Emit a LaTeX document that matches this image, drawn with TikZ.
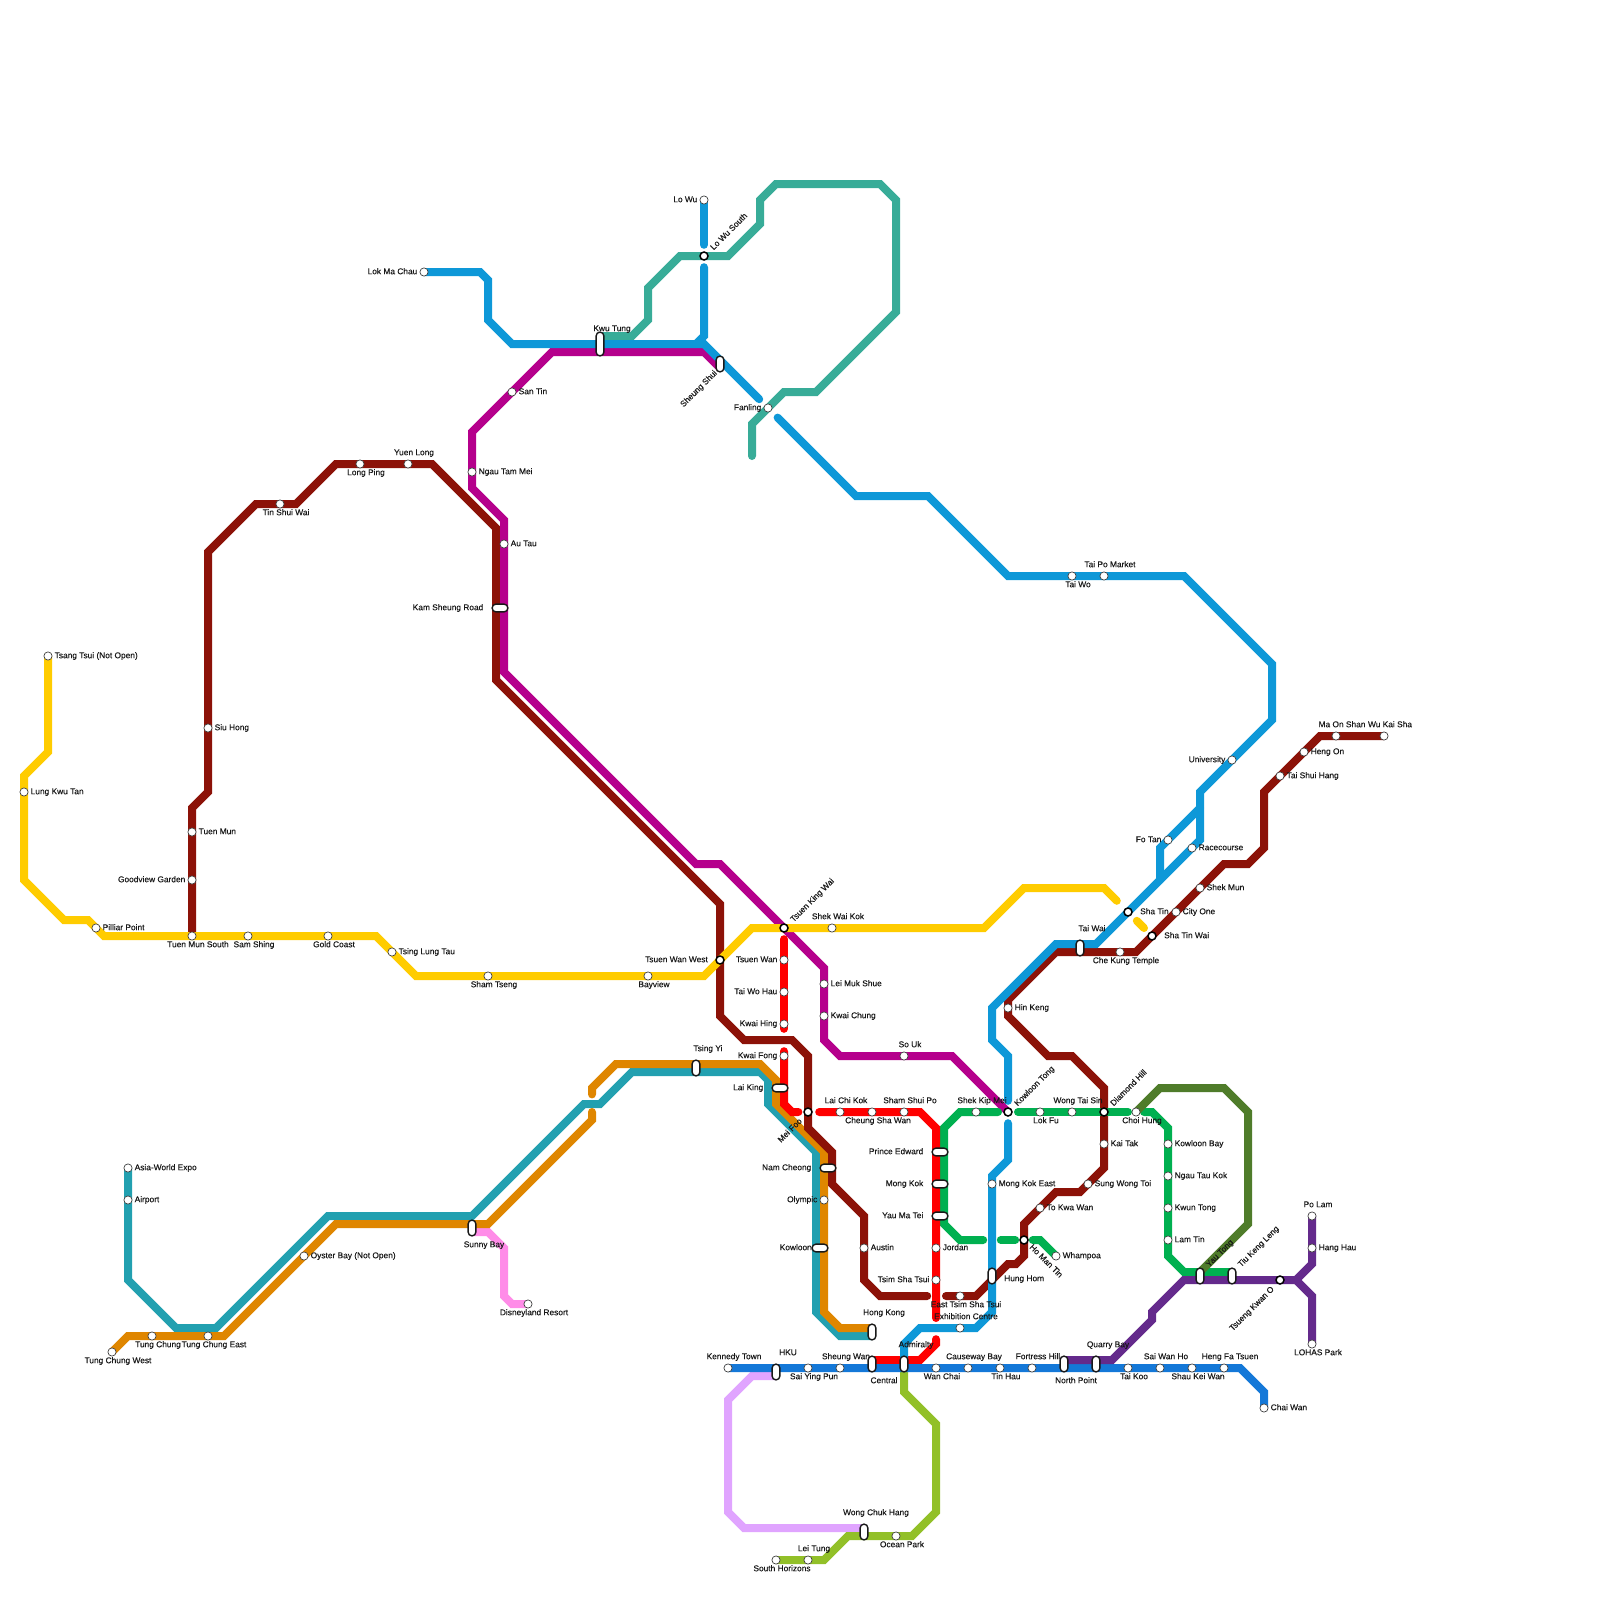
\documentclass[tikz,border=0pt]{standalone}
\usepackage{fontspec}
\setmainfont{Liberation Sans}
\newfontfamily\lblfont{Liberation Sans}[FakeBold=0.25]
\definecolor{cRed}{HTML}{FF0000}
\definecolor{cMar}{HTML}{8C1208}
\definecolor{cMag}{HTML}{B5008C}
\definecolor{cYel}{HTML}{FFCC00}
\definecolor{cBlu}{HTML}{0E98D8}
\definecolor{cIsl}{HTML}{1478D8}
\definecolor{cTea}{HTML}{22A0B0}
\definecolor{cOra}{HTML}{DF8600}
\definecolor{cGrn}{HTML}{00B050}
\definecolor{cOli}{HTML}{4F7C2A}
\definecolor{cPur}{HTML}{642A8C}
\definecolor{cLil}{HTML}{E0A4FF}
\definecolor{cLim}{HTML}{92C028}
\definecolor{cPnk}{HTML}{FF8CE8}
\definecolor{cSea}{HTML}{38AC98}
\tikzset{
 ln/.style={line width=8pt,line cap=round,line join=miter,miter limit=10},
 stop/.style={circle,draw=black!75,line width=0.7pt,fill=white,inner sep=0pt,minimum size=8.2pt},
 ichg/.style={circle,draw=black,line width=1.5pt,fill=white,inner sep=0pt,minimum size=8pt},
 pillh/.style={rectangle,rounded corners=3.9pt,draw=black!90,line width=1.4pt,fill=white,inner sep=0pt,minimum width=15.8pt,minimum height=7.8pt},
 pillv/.style={rectangle,rounded corners=3.9pt,draw=black!90,line width=1.4pt,fill=white,inner sep=0pt,minimum width=7.8pt,minimum height=15.8pt},
 pillvl/.style={pillv,minimum height=23.8pt},
 lab/.style={inner sep=0pt,text height=6.2pt,text depth=1.8pt,text=black!90,font=\lblfont\fontsize{8.35}{10}\selectfont},
 R/.style={anchor=west,xshift=6.5pt},
 L/.style={anchor=east,xshift=-6.5pt},
 A/.style={xshift=6pt,yshift=11pt},
 B/.style={xshift=6pt,yshift=-9pt},
 PA/.style={xshift=12pt,yshift=19pt},
 PB/.style={xshift=12pt,yshift=-17pt},
 PL/.style={anchor=east,xshift=-16.5pt},
 PR/.style={anchor=west,xshift=12pt},
 UR/.style={xshift=8pt,yshift=7pt,rotate=45,anchor=west},
 DL/.style={xshift=-7pt,yshift=-8pt,rotate=45,anchor=east},
 DR/.style={xshift=6.5pt,yshift=-6pt,rotate=-45,anchor=west},
}
\newcommand\st[4]{\node[#2] (n-#1) at (#1) {}; \node[lab,#3] (t-#1) at (#1) {#4};}
\begin{document}
\begin{tikzpicture}[x=8pt,y=-8pt]
\fill[white] (0,0) rectangle (200,200);
\useasboundingbox (0,0) rectangle (200,200);
% station positions
\foreach \n/\x/\y in {
 lmc/53/34,lowu/88/25,lwsouth/88/32,kwutung/75/43,sheungshui/90/45.5,fanling/96/51,taiwo/134/72,taipo/138/72,
 university/154/95,fotan/146/105,racecourse/149/106,shatin/141/114,taiwai/135/118.5,kowloontong/126/139,
 mongkokeast/124/148,hunghom/124/159.5,exhibition/120/166,admiralty/113/170.5,
 santin/64/49,ngautam/59/59,autau/63/68,kamsheung/62.5/76,tsuenking/98/116,leimuk/103/123,kwaichung/103/127,souk/113/132,
 wukai/173/92,maonshan/167/92,hengon/163/94,taishui/160/97,shekmun/150/111,cityone/147/114,shatinwai/144/117,chekung/140/119,
 hinkeng/126/126,diamond/138/139,kaitak/138/143,sungwong/136/148,tokwawan/130/151,homantin/128/155,easttst/120/162,
 austin/108/156,namcheong/103.5/146,meifoo/101/139,twwest/90/120,
 yuenlong/51/58,longping/45/58,tinshui/35/63,siuhong/26/91,tuenmun/24/104,goodview/24/110,tmsouth/24/117,
 tsangtsui/6/82,lungkwu/3/99,pilliar/12/116,samshing/31/117,goldcoast/41/117,tsinglung/49/119,shamtseng/61/122,bayview/81/122,shekwai/104/116,
 tcwest/14/169,tungchung/19/167,tceast/26/167,oyster/38/157,sunny/59/153.5,tsingyi/87/133.5,laiking/97.5/136,olympic/103/150,kowloon/102.5/156,hongkong/109/166.5,
 expo/16/146,airport/16/150,disney/66/163,
 tsuenwan/98/120,taiwohau/98/124,kwaihing/98/128,kwaifong/98/132,laichikok/105/139,cheungsha/109/139,shamshui/113/139,
 prince/117.5/144,mongkok/117.5/148,yaumatei/117.5/152,jordan/117/156,tst/117/160,
 shekkip/122/139,lokfu/130/139,wongtai/134/139,choihung/142/139,kwbay/146/143,ngautau/146/147,kwuntong/146/151,lamtin/146/155,yautong/150/159.5,tiukeng/154/159.5,whampoa/132/157,
 polam/164/152,hanghau/164/156,tko/160/160,lohas/164/168,
 kennedy/91/171,hku/97/171.5,saiying/101/171,sheungwan/105/171,central/109/170.5,wanchai/117/171,causeway/121/171,tinhau/125/171,fortress/129/171,northpoint/133/170.5,quarry/137/170.5,taikoo/141/171,saiwan/145/171,shaukei/149/171,hengfa/153/171,chaiwan/158/176,
 wongchuk/108/191.5,oceanpark/112/192,leitung/101/195,southhor/97/195}
 {\coordinate (\n) at (\x,\y);}
% lines
\draw[ln,cPnk] (59,154) -- (61,154) -- (63,156) -- (63,162) -- (64,163) -- (disney);
\draw[ln,cLil] (97,172) -- (94,172) -- (91,175) -- (91,189) -- (93,191) -- (108,191);
\draw[ln,cLim] (113,171) -- (113,174) -- (117,178) -- (117,189) -- (114,192) -- (106,192) -- (103,195) -- (southhor);
\draw[ln,cSea] (75,42) -- (79,42) -- (81,40) -- (81,36) -- (85,32) -- (91,32) -- (95,28) -- (95,25) -- (97,23) -- (110,23) -- (112,25) -- (112,39) -- (102,49) -- (98,49) -- (94,53) -- (94,57);
\draw[ln,cTea] (expo) -- (16,160) -- (22,166) -- (27,166) -- (41,152) -- (59,152) -- (73,138) -- (75,138) -- (79,134) -- (95,134) -- (96,135) -- (96,138) -- (102,144) -- (102,164) -- (105,167) -- (109,167);
\draw[ln,cOra] (tcwest) -- (16,167) -- (28,167) -- (42,153) -- (61,153) -- (74,140) -- (74,139);
\draw[ln,cOra] (74,136.8) -- (74,136) -- (77,133) -- (95,133) -- (97,135) -- (97,138) -- (103,144) -- (103,164) -- (105,166) -- (109,166);
\draw[ln,cMar] (wukai) -- (165,92) -- (158,99) -- (158,106) -- (156,108) -- (153,108) -- (142,119) -- (132,119) -- (126,125) -- (126,127) -- (131,132) -- (134,132) -- (138,136) -- (138,146) -- (135,149) -- (132,149) -- (128,153) -- (128,157) -- (127,158) -- (126,158) -- (122,162) -- (118.25,162);
\draw[ln,cMar] (115.9,162) -- (110,162) -- (108,160) -- (108,152) -- (104,148) -- (104,144) -- (101,141) -- (101,132) -- (99,130) -- (93,130) -- (90,127) -- (90,113) -- (62,85) -- (62,66) -- (54,58) -- (42,58) -- (37,63) -- (32,63) -- (26,69) -- (26,99) -- (24,101) -- (tmsouth);
\draw[ln,cMag] (90,46) -- (88,44) -- (69,44) -- (59,54) -- (59,61) -- (63,65) -- (63,84) -- (87,108) -- (90,108) -- (103,121) -- (103,130) -- (105,132) -- (119,132) -- (kowloontong);
\draw[ln,cGrn] (whampoa) -- (130,155) -- (129.1,155);
\draw[ln,cGrn] (125.1,155) -- (126.9,155);
\draw[ln,cGrn] (122.9,155) -- (120,155) -- (118,153) -- (118,141) -- (120,139) -- (124.75,139);
\draw[ln,cGrn] (127.25,139) -- (141,139);
\draw[ln,cGrn] (143,139) -- (144,139) -- (146,141) -- (146,157) -- (148,159) -- (154,159);
\draw[ln,cOli] (choihung) -- (145,136) -- (153,136) -- (156,139) -- (156,153) -- (150,159);
\draw[ln,cRed] (98,117.4) -- (98,128.6);
\draw[ln,cRed] (98,131.4) -- (98,138) -- (99,139) -- (99.8,139);
\draw[ln,cRed] (102.4,139) -- (115,139) -- (117,141) -- (117,164.75);
\draw[ln,cRed] (117,167.4) -- (117,168) -- (115,170) -- (109,170);
\draw[ln,cYel] (tsangtsui) -- (6,94) -- (3,97) -- (3,110) -- (8,115) -- (11,115) -- (13,117) -- (47,117) -- (52,122) -- (88,122) -- (94,116) -- (123,116) -- (128,111) -- (138,111) -- (139.6,112.6);
\draw[ln,cYel] (142.1,115.1) -- (143,116);
\draw[ln,cBlu] (lmc) -- (60,34) -- (61,35) -- (61,40) -- (64,43) -- (88,43) -- (94.9,49.9);
\draw[ln,cBlu] (lowu) -- (88,30.6);
\draw[ln,cBlu] (88,33.4) -- (88,42) -- (87,43);
\draw[ln,cBlu] (97.2,52.2) -- (107,62) -- (116,62) -- (126,72) -- (148,72) -- (159,83) -- (159,90) -- (150,99) -- (150,105) -- (137,118) -- (132,118) -- (124,126) -- (124,130) -- (126,132) -- (126,137.6);
\draw[ln,cBlu] (145,110) -- (145,106) -- (150,101);
\draw[ln,cBlu] (126,140.4) -- (126,145) -- (124,147) -- (124,164) -- (122,166) -- (115,166) -- (113,168) -- (113,170.5);
\draw[ln,cIsl] (kennedy) -- (155,171) -- (158,174) -- (chaiwan);
\draw[ln,cPur] (133,170) -- (139,170) -- (144,165) -- (144,164) -- (148,160) -- (162,160) -- (164,158) -- (polam);
\draw[ln,cPur] (162,160) -- (164,162) -- (lohas);
% stations and labels
\st{lmc}{stop}{L}{Lok Ma Chau}
\st{lowu}{stop}{L}{Lo Wu}
\st{lwsouth}{ichg}{UR}{Lo Wu South}
\node[pillvl] (n-kwutung) at (kwutung) {};
\node[lab,xshift=12pt,yshift=15pt] (t-kwutung) at (kwutung) {Kwu Tung};
\st{sheungshui}{pillv}{xshift=-4pt,yshift=-8pt,rotate=45,anchor=east}{Sheung Shui}
\st{fanling}{stop}{L}{Fanling}
\st{taiwo}{stop}{B}{Tai Wo}
\st{taipo}{stop}{A}{Tai Po Market}
\st{university}{stop}{L}{University}
\st{fotan}{stop}{L}{Fo Tan}
\st{racecourse}{stop}{R}{Racecourse}
\st{shatin}{ichg}{PR}{Sha Tin}
\st{taiwai}{pillv}{PA}{Tai Wai}
\st{kowloontong}{ichg}{UR}{Kowloon Tong}
\st{mongkokeast}{stop}{R}{Mong Kok East}
\st{hunghom}{pillv}{PR,yshift=-3pt}{Hung Hom}
\st{exhibition}{stop}{A}{Exhibition Centre}
\st{admiralty}{pillv}{PA}{Admiralty}
\st{santin}{stop}{R}{San Tin}
\st{ngautam}{stop}{R}{Ngau Tam Mei}
\st{autau}{stop}{R}{Au Tau}
\st{kamsheung}{pillh}{PL}{Kam Sheung Road}
\st{tsuenking}{ichg}{UR}{Tsuen King Wai}
\st{leimuk}{stop}{R}{Lei Muk Shue}
\st{kwaichung}{stop}{R}{Kwai Chung}
\st{souk}{stop}{A}{So Uk}
\st{wukai}{stop}{A}{Wu Kai Sha}
\st{maonshan}{stop}{A}{Ma On Shan}
\st{hengon}{stop}{R}{Heng On}
\st{taishui}{stop}{R}{Tai Shui Hang}
\st{shekmun}{stop}{R}{Shek Mun}
\st{cityone}{stop}{R}{City One}
\st{shatinwai}{ichg}{PR}{Sha Tin Wai}
\st{chekung}{stop}{B}{Che Kung Temple}
\st{hinkeng}{stop}{R}{Hin Keng}
\st{diamond}{ichg}{UR}{Diamond Hill}
\st{kaitak}{stop}{R}{Kai Tak}
\st{sungwong}{stop}{R}{Sung Wong Toi}
\st{tokwawan}{stop}{R}{To Kwa Wan}
\st{homantin}{ichg}{DR}{Ho Man Tin}
\st{easttst}{stop}{B}{East Tsim Sha Tsui}
\st{austin}{stop}{R}{Austin}
\st{namcheong}{pillh}{PL}{Nam Cheong}
\st{meifoo}{ichg}{DL}{Mei Foo}
\st{twwest}{ichg}{anchor=east,xshift=-12pt}{Tsuen Wan West}
\st{yuenlong}{stop}{A}{Yuen Long}
\st{longping}{stop}{B}{Long Ping}
\st{tinshui}{stop}{B}{Tin Shui Wai}
\st{siuhong}{stop}{R}{Siu Hong}
\st{tuenmun}{stop}{R}{Tuen Mun}
\st{goodview}{stop}{L}{Goodview Garden}
\st{tmsouth}{stop}{B}{Tuen Mun South}
\st{tsangtsui}{stop}{R}{Tsang Tsui (Not Open)}
\st{lungkwu}{stop}{R}{Lung Kwu Tan}
\st{pilliar}{stop}{R}{Pilliar Point}
\st{samshing}{stop}{B}{Sam Shing}
\st{goldcoast}{stop}{B}{Gold Coast}
\st{tsinglung}{stop}{R}{Tsing Lung Tau}
\st{shamtseng}{stop}{B}{Sham Tseng}
\st{bayview}{stop}{B}{Bayview}
\st{shekwai}{stop}{A}{Shek Wai Kok}
\st{tcwest}{stop}{B}{Tung Chung West}
\st{tungchung}{stop}{B}{Tung Chung}
\st{tceast}{stop}{B}{Tung Chung East}
\st{oyster}{stop}{R}{Oyster Bay (Not Open)}
\st{sunny}{pillv}{PB}{Sunny Bay}
\st{tsingyi}{pillv}{PA}{Tsing Yi}
\st{laiking}{pillh}{PL}{Lai King}
\st{olympic}{stop}{L}{Olympic}
\st{kowloon}{pillh}{anchor=east,xshift=-8pt}{Kowloon}
\st{hongkong}{pillv}{PA}{Hong Kong}
\st{expo}{stop}{R}{Asia-World Expo}
\st{airport}{stop}{R}{Airport}
\st{disney}{stop}{B}{Disneyland Resort}
\st{tsuenwan}{stop}{L}{Tsuen Wan}
\st{taiwohau}{stop}{L}{Tai Wo Hau}
\st{kwaihing}{stop}{L}{Kwai Hing}
\st{kwaifong}{stop}{L}{Kwai Fong}
\st{laichikok}{stop}{A}{Lai Chi Kok}
\st{cheungsha}{stop}{B}{Cheung Sha Wan}
\st{shamshui}{stop}{A}{Sham Shui Po}
\st{prince}{pillh}{PL}{Prince Edward}
\st{mongkok}{pillh}{PL}{Mong Kok}
\st{yaumatei}{pillh}{PL}{Yau Ma Tei}
\st{jordan}{stop}{R}{Jordan}
\st{tst}{stop}{L}{Tsim Sha Tsui}
\st{shekkip}{stop}{A}{Shek Kip Mei}
\st{lokfu}{stop}{B}{Lok Fu}
\st{wongtai}{stop}{A}{Wong Tai Sin}
\st{choihung}{stop}{B}{Choi Hung}
\st{kwbay}{stop}{R}{Kowloon Bay}
\st{ngautau}{stop}{R}{Ngau Tau Kok}
\st{kwuntong}{stop}{R}{Kwun Tong}
\st{lamtin}{stop}{R}{Lam Tin}
\st{yautong}{pillv}{xshift=7.5pt,yshift=10pt,rotate=45,anchor=west}{Yau Tong}
\st{tiukeng}{pillv}{xshift=7.5pt,yshift=10pt,rotate=45,anchor=west}{Tiu Keng Leng}
\st{whampoa}{stop}{R}{Whampoa}
\st{polam}{stop}{A}{Po Lam}
\st{hanghau}{stop}{R}{Hang Hau}
\st{tko}{ichg}{DL}{Tsueng Kwan O}
\st{lohas}{stop}{B}{LOHAS Park}
\st{kennedy}{stop}{A}{Kennedy Town}
\st{hku}{pillv}{PA}{HKU}
\st{saiying}{stop}{B}{Sai Ying Pun}
\st{sheungwan}{stop}{A}{Sheung Wan}
\st{central}{pillv}{PB}{Central}
\st{wanchai}{stop}{B}{Wan Chai}
\st{causeway}{stop}{A}{Causeway Bay}
\st{tinhau}{stop}{B}{Tin Hau}
\st{fortress}{stop}{A}{Fortress Hill}
\st{northpoint}{pillv}{PB}{North Point}
\st{quarry}{pillv}{PA}{Quarry Bay}
\st{taikoo}{stop}{B}{Tai Koo}
\st{saiwan}{stop}{A}{Sai Wan Ho}
\st{shaukei}{stop}{B}{Shau Kei Wan}
\st{hengfa}{stop}{A}{Heng Fa Tsuen}
\st{chaiwan}{stop}{R}{Chai Wan}
\st{wongchuk}{pillv}{PA}{Wong Chuk Hang}
\st{oceanpark}{stop}{B}{Ocean Park}
\st{leitung}{stop}{A}{Lei Tung}
\st{southhor}{stop}{B}{South Horizons}
\end{tikzpicture}
\end{document}
